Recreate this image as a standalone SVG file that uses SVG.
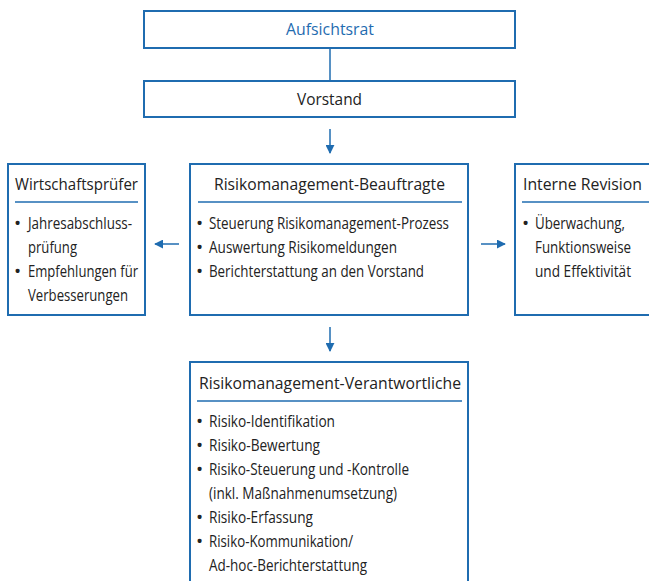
<svg xmlns="http://www.w3.org/2000/svg" width="649" height="581" viewBox="0 0 649 581">
<defs>
<marker id="ah" viewBox="0 0 10 10" refX="9" refY="5" markerWidth="9" markerHeight="9" orient="auto" markerUnits="userSpaceOnUse">
<path d="M0,0 L10,5 L0,10 z" fill="#1f6cb0"/>
</marker>
<style>
.box{fill:#fff;stroke:#1f6cb0;stroke-width:2}
.sep{stroke:#1f6cb0;stroke-width:1.5}
.conn{stroke:#1f6cb0;stroke-width:1.5;fill:none}
text{font-family:"Open Sans","Liberation Sans",sans-serif;fill:#222;font-size:16px}
.t{font-size:17px}
.b{font-size:19px}
</style>
</defs>
<rect width="649" height="581" fill="#fff"/>
<g id="connectors">
<line class="conn" x1="330" y1="48" x2="330" y2="81"/>
<line class="conn" x1="330" y1="129" x2="330" y2="153" marker-end="url(#ah)"/>
<line class="conn" x1="179" y1="244" x2="155" y2="244" marker-end="url(#ah)"/>
<line class="conn" x1="481" y1="244" x2="505" y2="244" marker-end="url(#ah)"/>
<line class="conn" x1="330" y1="327" x2="330" y2="351" marker-end="url(#ah)"/>
</g>
<g id="aufsichtsrat">
<rect class="box" x="144" y="11" width="371" height="37"/>
<text x="286" y="35" class="t" style="fill:#1f6cb0" textLength="88" lengthAdjust="spacingAndGlyphs">Aufsichtsrat</text>
</g>
<g id="vorstand">
<rect class="box" x="144" y="81" width="371" height="36"/>
<text x="297" y="105" class="t" textLength="65" lengthAdjust="spacingAndGlyphs">Vorstand</text>
</g>
<g id="wirtschaftspruefer">
<rect class="box" x="8" y="164" width="137" height="151"/>
<text x="15" y="190" class="t" textLength="123" lengthAdjust="spacingAndGlyphs">Wirtschaftsprüfer</text>
<line class="sep" x1="15" y1="202" x2="138" y2="202"/>
<text x="14" y="230" class="b">•</text>
<text x="28" y="229" textLength="104" lengthAdjust="spacingAndGlyphs">Jahresabschluss-</text>
<text x="28" y="253" textLength="49" lengthAdjust="spacingAndGlyphs">prüfung</text>
<text x="14" y="278" class="b">•</text>
<text x="28" y="277" textLength="110" lengthAdjust="spacingAndGlyphs">Empfehlungen für</text>
<text x="28" y="301" textLength="100" lengthAdjust="spacingAndGlyphs">Verbesserungen</text>
</g>
<g id="beauftragte">
<rect class="box" x="190" y="164" width="278" height="151"/>
<text x="214" y="190" class="t" textLength="231" lengthAdjust="spacingAndGlyphs">Risikomanagement-Beauftragte</text>
<line class="sep" x1="198" y1="202" x2="462" y2="202"/>
<text x="196" y="230" class="b">•</text>
<text x="209" y="229" textLength="240" lengthAdjust="spacingAndGlyphs">Steuerung Risikomanagement-Prozess</text>
<text x="196" y="254" class="b">•</text>
<text x="209" y="253" textLength="188" lengthAdjust="spacingAndGlyphs">Auswertung Risikomeldungen</text>
<text x="196" y="278" class="b">•</text>
<text x="209" y="277" textLength="215" lengthAdjust="spacingAndGlyphs">Berichterstattung an den Vorstand</text>
</g>
<g id="revision">
<rect class="box" x="515" y="164" width="140" height="151"/>
<text x="523" y="190" class="t" textLength="119" lengthAdjust="spacingAndGlyphs">Interne Revision</text>
<line class="sep" x1="522" y1="202" x2="649" y2="202"/>
<text x="522" y="230" class="b">•</text>
<text x="535" y="229" textLength="90" lengthAdjust="spacingAndGlyphs">Überwachung,</text>
<text x="535" y="253" textLength="96" lengthAdjust="spacingAndGlyphs">Funktionsweise</text>
<text x="535" y="277" textLength="96" lengthAdjust="spacingAndGlyphs">und Effektivität</text>
</g>
<g id="verantwortliche">
<rect class="box" x="190" y="362" width="278" height="230"/>
<text x="199" y="389" class="t" textLength="262" lengthAdjust="spacingAndGlyphs">Risikomanagement-Verantwortliche</text>
<line class="sep" x1="197" y1="401" x2="462" y2="401"/>
<text x="196" y="428" class="b">•</text>
<text x="209" y="427" textLength="126" lengthAdjust="spacingAndGlyphs">Risiko-Identifikation</text>
<text x="196" y="452" class="b">•</text>
<text x="209" y="451" textLength="111" lengthAdjust="spacingAndGlyphs">Risiko-Bewertung</text>
<text x="196" y="476" class="b">•</text>
<text x="209" y="475" textLength="200" lengthAdjust="spacingAndGlyphs">Risiko-Steuerung und -Kontrolle</text>
<text x="209" y="499" textLength="188" lengthAdjust="spacingAndGlyphs">(inkl. Maßnahmenumsetzung)</text>
<text x="196" y="524" class="b">•</text>
<text x="209" y="523" textLength="104" lengthAdjust="spacingAndGlyphs">Risiko-Erfassung</text>
<text x="196" y="548" class="b">•</text>
<text x="209" y="547" textLength="144" lengthAdjust="spacingAndGlyphs">Risiko-Kommunikation/</text>
<text x="209" y="571" textLength="158" lengthAdjust="spacingAndGlyphs">Ad-hoc-Berichterstattung</text>
</g>
</svg>
